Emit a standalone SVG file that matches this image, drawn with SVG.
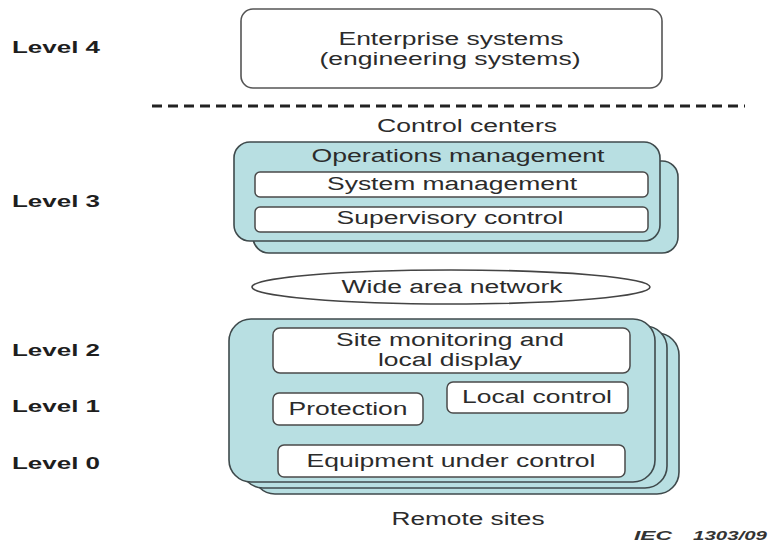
<svg xmlns="http://www.w3.org/2000/svg" width="772" height="544" viewBox="0 0 772 544">
  <defs>
    <style>
      text { font-family: "Liberation Sans", Arial, sans-serif; fill: #2b2b2b; }
      .lvl { font-size: 16px; font-weight: bold; fill: #1e1e1e; }
      .lbl { font-size: 18px; text-anchor: middle; }
      .note { font-size: 12.5px; font-style: italic; font-weight: bold; fill: #333; }
      .plain { fill: #ffffff; stroke: #555; stroke-width: 1.6; }
      .site { fill: #b8dfe2; stroke: #3f4a4c; stroke-width: 1.6; }
      .inner { fill: #ffffff; stroke: #4a4a4a; stroke-width: 1.5; }
    </style>
  </defs>
  <rect width="772" height="544" fill="#ffffff"/>

  <!-- Level labels -->
  <g id="levels">
    <text class="lvl" x="12" y="53" textLength="88" lengthAdjust="spacingAndGlyphs">Level 4</text>
    <text class="lvl" x="12" y="207" textLength="88" lengthAdjust="spacingAndGlyphs">Level 3</text>
    <text class="lvl" x="12" y="356" textLength="88" lengthAdjust="spacingAndGlyphs">Level 2</text>
    <text class="lvl" x="12" y="412" textLength="88" lengthAdjust="spacingAndGlyphs">Level 1</text>
    <text class="lvl" x="12" y="469" textLength="88" lengthAdjust="spacingAndGlyphs">Level 0</text>
  </g>

  <!-- Level 4 -->
  <g id="enterprise">
    <rect class="plain" x="241" y="9" width="421" height="79" rx="12"/>
    <text class="lbl" x="451" y="45" textLength="225" lengthAdjust="spacingAndGlyphs">Enterprise systems</text>
    <text class="lbl" x="450" y="65" textLength="261" lengthAdjust="spacingAndGlyphs">(engineering systems)</text>
  </g>

  <!-- Boundary between enterprise and control centres -->
  <g id="boundary">
    <line x1="152" y1="106" x2="745" y2="106" stroke="#222" stroke-width="3" stroke-dasharray="10 6"/>
    <text class="lbl" x="467" y="132" textLength="180" lengthAdjust="spacingAndGlyphs">Control centers</text>
  </g>

  <!-- Level 3: control centres -->
  <g id="control-centers">
    <rect class="site" x="253" y="161" width="425" height="92" rx="16"/>
    <rect class="site" x="234" y="142" width="426" height="99" rx="16"/>
    <text class="lbl" x="458" y="162" textLength="293" lengthAdjust="spacingAndGlyphs">Operations management</text>
    <g id="system-management">
      <rect class="inner" x="255" y="172" width="393" height="25" rx="5"/>
      <text class="lbl" x="452" y="190" textLength="250" lengthAdjust="spacingAndGlyphs">System management</text>
    </g>
    <g id="supervisory-control">
      <rect class="inner" x="255" y="207" width="393" height="25" rx="5"/>
      <text class="lbl" x="450" y="224" textLength="227" lengthAdjust="spacingAndGlyphs">Supervisory control</text>
    </g>
  </g>

  <!-- Wide area network -->
  <g id="wan">
    <ellipse cx="451" cy="287" rx="199" ry="17" fill="#ffffff" stroke="#444" stroke-width="1.6"/>
    <text class="lbl" x="452" y="293" textLength="221" lengthAdjust="spacingAndGlyphs">Wide area network</text>
  </g>

  <!-- Levels 0-2: remote sites -->
  <g id="remote-sites">
    <rect class="site" x="253" y="333" width="426" height="161" rx="22"/>
    <rect class="site" x="241" y="326" width="426" height="162" rx="22"/>
    <rect class="site" x="229" y="319" width="426" height="163" rx="22"/>
    <g id="site-monitoring">
      <rect class="inner" x="273" y="328" width="357" height="45" rx="7"/>
      <text class="lbl" x="450" y="346" textLength="228" lengthAdjust="spacingAndGlyphs">Site monitoring and</text>
      <text class="lbl" x="450" y="366" textLength="144" lengthAdjust="spacingAndGlyphs">local display</text>
    </g>
    <g id="protection">
      <rect class="inner" x="273" y="393" width="150" height="32" rx="6"/>
      <text class="lbl" x="348" y="415" textLength="119" lengthAdjust="spacingAndGlyphs">Protection</text>
    </g>
    <g id="local-control">
      <rect class="inner" x="447" y="382" width="181" height="31" rx="6"/>
      <text class="lbl" x="537" y="403" textLength="150" lengthAdjust="spacingAndGlyphs">Local control</text>
    </g>
    <g id="equipment">
      <rect class="inner" x="278" y="445" width="347" height="32" rx="6"/>
      <text class="lbl" x="451" y="467" textLength="289" lengthAdjust="spacingAndGlyphs">Equipment under control</text>
    </g>
    <text class="lbl" x="468" y="525" textLength="153" lengthAdjust="spacingAndGlyphs">Remote sites</text>
  </g>

  <!-- Figure reference -->
  <g id="figure-ref">
    <text class="note" x="634" y="540" textLength="38" lengthAdjust="spacingAndGlyphs">IEC</text>
    <text class="note" x="693" y="540" textLength="74" lengthAdjust="spacingAndGlyphs">1303/09</text>
  </g>

  <g id="connectors"></g>
</svg>
